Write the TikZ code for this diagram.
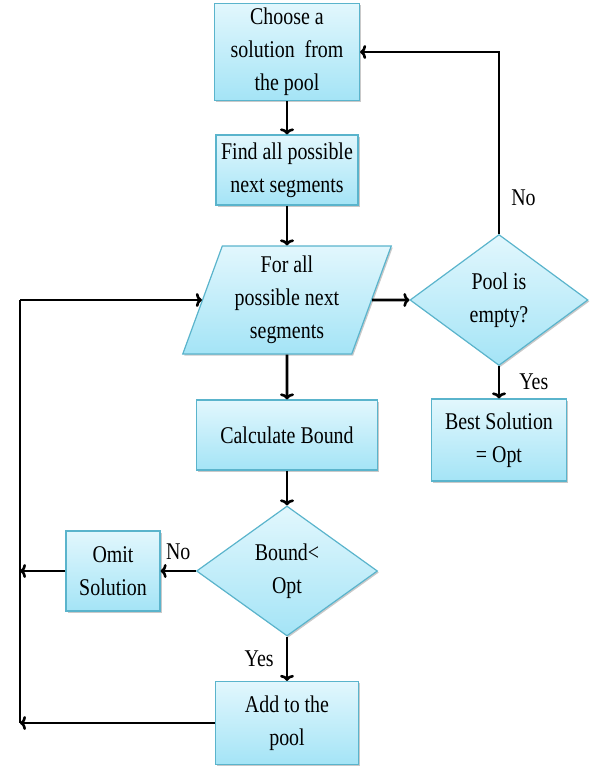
\documentclass[tikz,border=0pt]{standalone}
\usepackage{fontspec}
\setmainfont{Liberation Serif}[FakeStretch=0.83]
\usepackage{tikz}
\usetikzlibrary{shapes.geometric,positioning,arrows.meta,shadows}

\definecolor{boxline}{HTML}{5AB4CC}
\definecolor{boxtop}{HTML}{E2F7FD}
\definecolor{boxbottom}{HTML}{A4E4F6}

\tikzset{
    block/.style={draw=boxline, line width=1.2pt, top color=boxtop, bottom color=boxbottom,
        align=center, inner sep=0pt, font=\fontsize{24}{33}\selectfont,
        drop shadow={shadow xshift=1.5pt, shadow yshift=-1.5pt, opacity=0.3, fill=black!70}},
    process/.style={block, rectangle},
    decision/.style={block, diamond},
    io/.style={block, trapezium, trapezium left angle=70, trapezium right angle=110,
        trapezium stretches=true},
    flow/.style={line width=2.6pt, -{To[length=6pt,width=14pt]}},
    rail/.style={line width=2.6pt},
    lbl/.style={font=\fontsize{24}{33}\selectfont, inner sep=4pt}
}

\begin{document}
\begin{tikzpicture}[x=1pt,y=-1pt,on grid]
    \useasboundingbox (0,0) rectangle (589,773);

    \node[process, minimum width=145pt, minimum height=97pt] (choose) at (287,52) {Choose a\\solution\ \ from\\the pool};
    \node[process, minimum width=142pt, minimum height=70pt] [below=118pt of choose] (find) {Find all possible\\next segments};
    \node[io, minimum width=209pt, minimum height=108pt] [below=130pt of find] (loop) {For all\\possible next\\segments};
    \node[process, minimum width=181pt, minimum height=70pt] [below=135pt of loop] (calc) {Calculate Bound};
    \node[decision, minimum width=181pt, minimum height=130pt] [below=136pt of calc] (bound) {Bound<\\Opt};
    \node[process, minimum width=143pt, minimum height=83pt] [below=152pt of bound] (add) {Add to the\\pool};
    \node[process, minimum width=94pt, minimum height=80pt] [left=174pt of bound] (omit) {Omit\\Solution};
    \node[decision, minimum width=178pt, minimum height=131pt] [right=212pt of loop] (pool) {Pool is\\empty?};
    \node[process, minimum width=135pt, minimum height=82pt] [below=140pt of pool] (best) {Best Solution\\= Opt};

    \coordinate [left=267pt of loop] (rail_top);
    \coordinate (rail_bottom) at (rail_top |- add);

    \draw[flow] (choose) -- (find);
    \draw[flow] (find) -- (loop);
    \draw[flow] (loop) -- (calc);
    \draw[flow] (calc) -- (bound);
    \draw[flow] (bound) -- node[lbl, left=8pt] {Yes} (add);
    \draw[flow] (bound) -- node[lbl, above=6pt] {No} (omit);
    \draw[flow] (omit) -- (omit -| rail_top);
    \draw[flow] (add) -- (rail_bottom);
    \draw[rail] (rail_bottom) -- (rail_top);
    \draw[flow] (rail_top) -- (loop);
    \draw[flow] (loop) -- (pool);
    \draw[flow] (pool) |- node[lbl, pos=0.1, right=7pt] {No} (choose);
    \draw[flow] (pool) -- node[lbl, right=15pt] {Yes} (best);
\end{tikzpicture}
\end{document}
